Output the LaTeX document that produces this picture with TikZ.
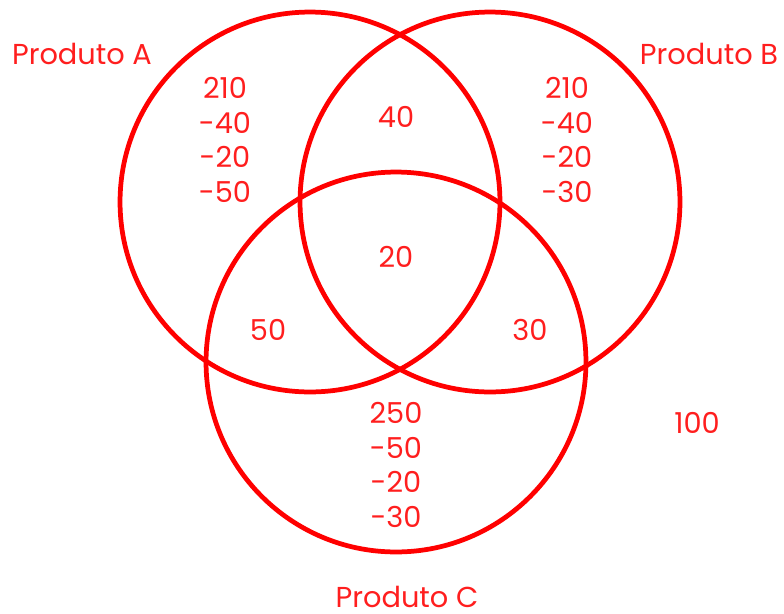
\documentclass[tikz,border=0pt]{standalone}
\usepackage{fontspec}
\setmainfont{Poppins}
\usetikzlibrary{positioning}

\begin{document}
\begin{tikzpicture}[x=0.02cm, y=-0.02cm,
  % ---- colours ---------------------------------------------------------
  /utils/exec={%
    \definecolor{vennred} {RGB}{255,  0,  0}%
    \definecolor{venntext}{RGB}{255, 30, 30}%
  },
  % ---- styles ----------------------------------------------------------
  ring/.style={circle, draw=vennred, line width=2.7pt, minimum size=7.6cm, inner sep=0pt},
  lbl/.style={font=\fontsize{16.4}{19}\selectfont, text=venntext, inner sep=0pt},
  num/.style={font=\fontsize{16.4}{19.6}\selectfont, text=venntext, align=center, inner sep=0pt},
]
\useasboundingbox (0,0) rectangle (784,613);

% =====================================================================
%  THE THREE SETS
% =====================================================================
\node[ring] (setA) at (310,202) {};
\node[ring] (setB) at (490,202) {};
\node[ring] (setC) at (396,362) {};

\node[lbl] (nameA) at (82,54)   {Produto A};
\node[lbl] (nameB) at (709,54)  {Produto B};
\node[lbl] (nameC) at (407,597) {Produto C};

% =====================================================================
%  REGION COUNTS
% =====================================================================
\node[num] (onlyA) at (225,140) {210\\-40\\-20\\-50};
\node[num] (onlyB) at (567,140) {210\\-40\\-20\\-30};
\node[num] (onlyC) at (396,465) {250\\-50\\-20\\-30};

\node[num] (ab)  at (396,117) {40};
\node[num] (abc) at (396,257) {20};
\node[num] (ac)  at (268,330) {50};
\node[num] (bc)  at (530,330) {30};

\node[num] (none) at (697,423) {100};

\end{tikzpicture}
\end{document}
